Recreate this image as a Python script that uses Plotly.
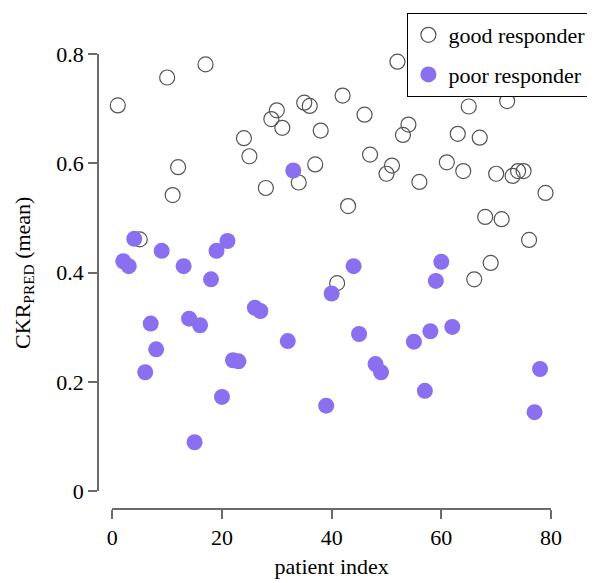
import plotly.graph_objects as go

good_idx = [1, 5, 10, 11, 12, 17, 24, 25, 28, 29, 30, 31, 34, 35, 36, 37, 38, 41, 42, 43,
            46, 47, 50, 51, 52, 53, 54, 56, 61, 63, 64, 65, 66, 67, 68, 69, 70, 71, 72,
            73, 74, 75, 76, 79]
good_val = [0.706, 0.461, 0.757, 0.542, 0.593, 0.781, 0.646, 0.613, 0.555, 0.681, 0.697,
            0.665, 0.565, 0.711, 0.705, 0.598, 0.660, 0.381, 0.724, 0.522, 0.689, 0.616,
            0.581, 0.596, 0.786, 0.652, 0.671, 0.566, 0.602, 0.654, 0.586, 0.704, 0.388,
            0.647, 0.502, 0.418, 0.581, 0.498, 0.714, 0.577, 0.586, 0.586, 0.460, 0.546]

poor_idx = [2, 3, 4, 6, 7, 8, 9, 13, 14, 15, 16, 18, 19, 20, 21, 22, 23, 26, 27, 32, 33,
            39, 40, 44, 45, 48, 49, 55, 57, 58, 59, 60, 62, 77, 78]
poor_val = [0.421, 0.412, 0.462, 0.218, 0.307, 0.260, 0.440, 0.412, 0.316, 0.090, 0.304,
            0.388, 0.440, 0.173, 0.458, 0.240, 0.238, 0.336, 0.330, 0.275, 0.587, 0.157,
            0.362, 0.412, 0.288, 0.233, 0.218, 0.274, 0.184, 0.293, 0.385, 0.420, 0.301,
            0.145, 0.224]

x_ticks = [0, 20, 40, 60, 80]
y_ticks = [0, 0.2, 0.4, 0.6, 0.8]
y_tick_text = ["0", "0.2", "0.4", "0.6", "0.8"]

FONT = "Liberation Serif, Times New Roman, serif"
AXIS_COLOR = "#6b6b6b"
PURPLE = "#8a6ff0"

fig = go.Figure()
fig.add_trace(go.Scatter(
    x=good_idx, y=good_val, mode="markers", name="good responder",
    legendgroup="g",
    marker=dict(symbol="circle-open", size=15, color="#555555", line=dict(width=1.2)),
    cliponaxis=False,
))
fig.add_trace(go.Scatter(
    x=poor_idx, y=poor_val, mode="markers", name="poor responder",
    legendgroup="p",
    marker=dict(symbol="circle", size=16, color=PURPLE, line=dict(width=0)),
    cliponaxis=False,
))

# page body has an 8px default margin, so the figure is sized 587x575
fig.update_layout(
    width=587, height=575,
    margin=dict(l=90, r=44, t=46, b=74, autoexpand=False),
    paper_bgcolor="white", plot_bgcolor="white",
    font=dict(family=FONT, size=22, color="black"),
    showlegend=True,
    legend=dict(
        x=0.683, y=1.090, xanchor="left", yanchor="top",
        bordercolor="black", borderwidth=1, bgcolor="white",
        font=dict(family=FONT, size=22, color="black"),
        traceorder="grouped", tracegroupgap=8,
        itemwidth=30,
    ),
    xaxis=dict(
        domain=[0.0316, 1], range=[0, 80], anchor="free", position=0,
        tickvals=x_ticks, ticks="outside", ticklen=9, tickwidth=1.5, tickcolor=AXIS_COLOR,
        showline=True, linecolor=AXIS_COLOR, linewidth=1.5,
        showgrid=False, zeroline=False,
        tickfont=dict(family=FONT, size=22, color="black"),
        title=dict(text="patient index", standoff=8, font=dict(family=FONT, size=22)),
    ),
    yaxis=dict(
        domain=[0.0385, 1], range=[0, 0.8], anchor="free", position=0,
        tickvals=y_ticks, ticktext=y_tick_text, ticks="outside", ticklen=9, tickwidth=1.5,
        tickcolor=AXIS_COLOR,
        showline=True, linecolor=AXIS_COLOR, linewidth=1.5,
        showgrid=False, zeroline=False,
        tickfont=dict(family=FONT, size=22, color="black"),
        title=dict(text="CKR<sub>PRED</sub> (mean)", standoff=19, font=dict(family=FONT, size=22)),
    ),
)

fig.write_html("out.html")
